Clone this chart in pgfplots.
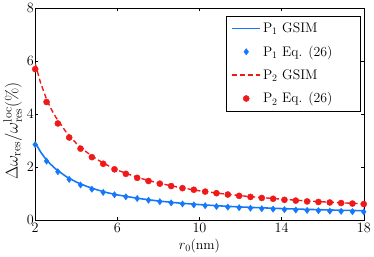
\documentclass[border=0pt]{standalone}
\usepackage{pgfplots}
\pgfplotsset{compat=1.18}
\definecolor{pblue}{RGB}{20,120,250}
\definecolor{pred}{RGB}{240,25,25}
\begin{document}
\begin{tikzpicture}[font=\fontsize{14}{17}\selectfont]
\begin{axis}[
  scale only axis, width=333pt, height=215pt,
  every axis/.append style={font=\fontsize{14}{17}\selectfont},
  tick label style={font=\fontsize{14}{17}\selectfont},
  label style={font=\fontsize{14}{17}\selectfont},
  xmin=2, xmax=18, ymin=0, ymax=8,
  xtick={2,6,10,14,18}, ytick={0,2,4,6,8},
  tick align=inside, major tick length=3pt,
  tick style={black, thin},
  axis line style={black, thin},
  xlabel={$r_0$(nm)}, ylabel={$\Delta\omega_{\mathrm{res}}/\omega^{\mathrm{loc}}_{\mathrm{res}}(\%)$},
  xlabel style={yshift=0pt},
  ylabel style={at={(ticklabel cs:0.42)}, yshift=-2pt, font=\fontsize{17}{20}\selectfont},
  x tick label style={yshift=0pt},
  y tick label style={xshift=2pt},
  legend style={at={(0.989,0.963)}, anchor=north east, draw=black, thin,
    font=\fontsize{14}{17}\selectfont, row sep=8pt, inner xsep=5pt, inner ysep=5pt},
  legend cell align=left,
  legend image code/.code={
    \draw[mark repeat=2,mark phase=2,#1] plot coordinates {(0cm,0cm) (0.5cm,0cm) (1.0cm,0cm)};},
]
\addplot[pblue, line width=1.6pt] coordinates {
(2,2.92) (2.25,2.58) (2.5,2.31) (2.75,2.10) (3,1.92) (3.5,1.64) (4,1.43) (4.5,1.27) (5,1.14) (5.5,1.03) (6,0.945) (7,0.815) (8,0.715) (9,0.64) (10,0.58) (11,0.53) (12,0.49) (13,0.46) (14,0.43) (15,0.405) (16,0.385) (17,0.365) (18,0.35)};
\addlegendentry{P$_1$ GSIM}
\addplot[only marks, mark=diamond*, mark size=3.2pt, pblue] coordinates {
(2.000,2.84) (2.552,2.22) (3.103,1.82) (3.655,1.53) (4.207,1.32) (4.759,1.16) (5.310,1.04) (5.862,0.95) (6.414,0.875) (6.966,0.81) (7.517,0.745) (8.069,0.69) (8.621,0.645) (9.172,0.605) (9.724,0.57) (10.276,0.54) (10.828,0.51) (11.379,0.485) (11.931,0.465) (12.483,0.445) (13.034,0.425) (13.586,0.41) (14.138,0.39) (14.690,0.375) (15.241,0.36) (15.793,0.35) (16.345,0.335) (16.897,0.325) (17.448,0.315) (18.000,0.305)};
\addlegendentry{P$_1$ Eq. (26)\hspace*{21pt}}
\addplot[pred, line width=1.4pt, dash pattern=on 5pt off 3pt] coordinates {
(2,5.90) (2.25,5.20) (2.5,4.66) (2.75,4.22) (3,3.88) (3.5,3.32) (4,2.89) (4.5,2.56) (5,2.29) (5.5,2.07) (6,1.88) (7,1.60) (8,1.39) (9,1.23) (10,1.10) (11,1.00) (12,0.915) (13,0.845) (14,0.785) (15,0.73) (16,0.685) (17,0.645) (18,0.61)};
\addlegendentry{P$_2$ GSIM}
\addplot[only marks, mark=*, mark size=3.1pt, pred] coordinates {
(2.000,5.69) (2.552,4.45) (3.103,3.64) (3.655,3.11) (4.207,2.69) (4.759,2.37) (5.310,2.12) (5.862,1.91) (6.414,1.74) (6.966,1.59) (7.517,1.47) (8.069,1.37) (8.621,1.28) (9.172,1.20) (9.724,1.14) (10.276,1.07) (10.828,1.01) (11.379,0.96) (11.931,0.91) (12.483,0.87) (13.034,0.83) (13.586,0.80) (14.138,0.76) (14.690,0.73) (15.241,0.70) (15.793,0.68) (16.345,0.66) (16.897,0.64) (17.448,0.62) (18.000,0.60)};
\addlegendentry{P$_2$ Eq. (26)}
\end{axis}
\end{tikzpicture}
\end{document}
